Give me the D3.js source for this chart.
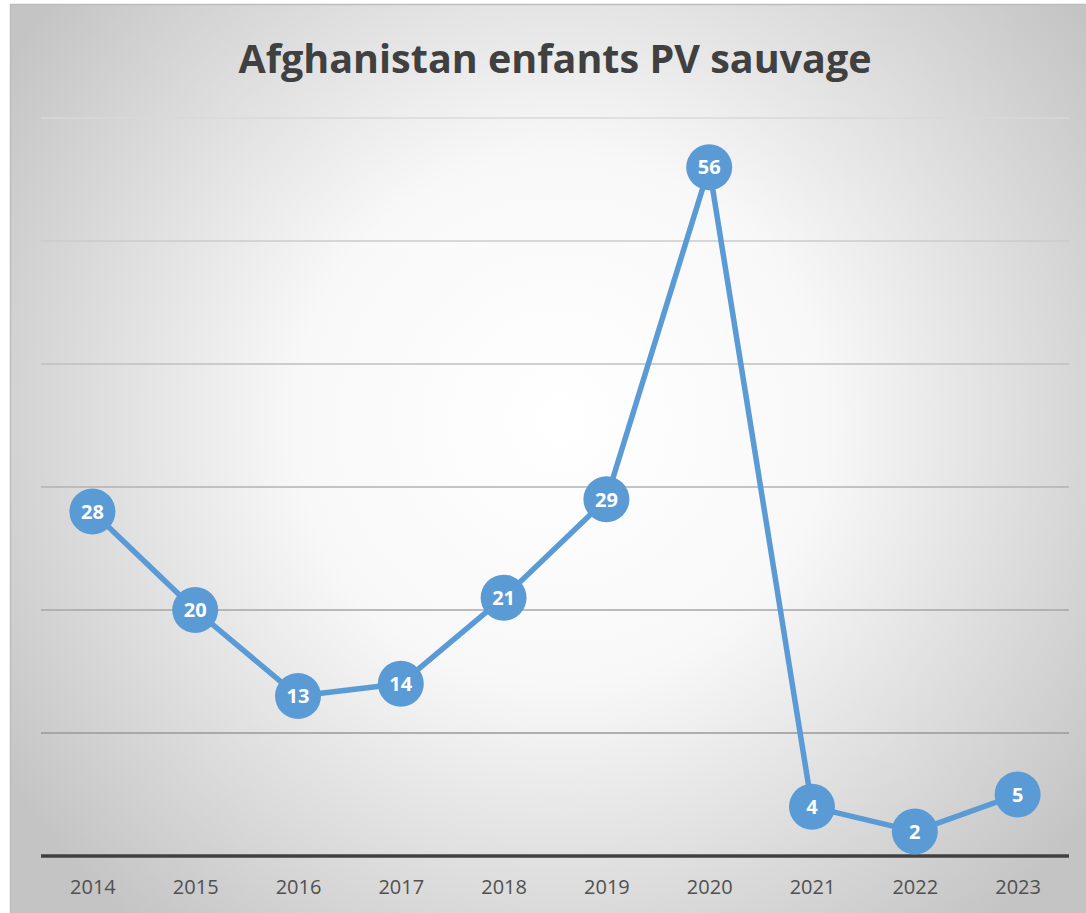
<!DOCTYPE html>
<html>
<head>
<meta charset="utf-8">
<script src="https://cdn.jsdelivr.net/npm/d3@7"></script>
<style>
  body { margin: 0; background: #fff; }
  svg { display: block; }
</style>
</head>
<body>
<main></main>
<script>
// data
const years = ['2014', '2015', '2016', '2017', '2018', '2019', '2020', '2021', '2022', '2023'];
const cases = [28, 20, 13, 14, 21, 29, 56, 4, 2, 5];
const yTicks = [0, 10, 20, 30, 40, 50, 60];

const w = 1086;
const h = 913;
const plot = { left: 41, right: 1069, top: 118, bottom: 856 };

const svg = d3.select('main').append('svg').attr('width', w).attr('height', h);

const defs = svg.append('defs');
const bg = defs
  .append('radialGradient')
  .attr('id', 'bg')
  .attr('gradientUnits', 'userSpaceOnUse')
  .attr('cx', 560)
  .attr('cy', 420)
  .attr('r', 660);
bg.append('stop').attr('offset', '0%').attr('stop-color', '#ffffff');
bg.append('stop').attr('offset', '40%').attr('stop-color', '#f8f8f8');
bg.append('stop').attr('offset', '100%').attr('stop-color', '#c4c4c4');

// chart frame
svg
  .append('rect')
  .attr('x', 10.5)
  .attr('y', 4.5)
  .attr('width', w)
  .attr('height', h)
  .attr('fill', 'url(#bg)')
  .attr('stroke', '#bdbdbd')
  .attr('stroke-width', 1.5);

const x = d3.scalePoint().domain(years).range([plot.left, plot.right]).padding(0.5);
const y = d3.scaleLinear().domain([0, 60]).range([plot.bottom, plot.top]);

// gridlines get darker toward the bottom
const gridColor = d3.scaleLinear().domain([60, 10]).range(['#d8d8d8', '#999999']);
svg
  .append('g')
  .selectAll('line')
  .data(yTicks.filter((d) => d > 0))
  .enter()
  .append('line')
  .attr('x1', plot.left)
  .attr('x2', plot.right)
  .attr('y1', (d) => y(d))
  .attr('y2', (d) => y(d))
  .attr('stroke', (d) => gridColor(d))
  .attr('stroke-width', 1.5);

// baseline
svg
  .append('line')
  .attr('x1', plot.left)
  .attr('x2', plot.right)
  .attr('y1', y(0))
  .attr('y2', y(0))
  .attr('stroke', '#404040')
  .attr('stroke-width', 3.5);

// x axis labels
const xAxis = svg
  .append('g')
  .attr('transform', `translate(0,${y(0)})`)
  .call(d3.axisBottom(x).tickSize(0).tickPadding(24));
xAxis.select('.domain').remove();
xAxis
  .selectAll('text')
  .attr('fill', '#505050')
  .style('font-family', '"Open Sans", sans-serif')
  .style('font-size', '20px');

// title
svg
  .append('text')
  .attr('x', 555)
  .attr('y', 73)
  .attr('text-anchor', 'middle')
  .attr('fill', '#404040')
  .style('font-family', '"Open Sans", sans-serif')
  .style('font-weight', 'bold')
  .style('font-size', '39.5px')
  .text('Afghanistan enfants PV sauvage');

const pts = years.map((d, i) => ({ year: d, v: cases[i] }));

const line = d3
  .line()
  .x((d) => x(d.year))
  .y((d) => y(d.v));

svg
  .append('path')
  .datum(pts)
  .attr('d', line)
  .attr('fill', 'none')
  .attr('stroke', '#5B9BD5')
  .attr('stroke-width', 5.5)
  .attr('stroke-linejoin', 'round');

const marks = svg
  .append('g')
  .selectAll('g')
  .data(pts)
  .enter()
  .append('g')
  .attr('transform', (d) => `translate(${x(d.year)},${y(d.v)})`);

marks.append('circle').attr('r', 23).attr('fill', '#5B9BD5');

marks
  .append('text')
  .attr('text-anchor', 'middle')
  .attr('dy', '0.36em')
  .attr('fill', '#ffffff')
  .style('font-family', '"Open Sans", sans-serif')
  .style('font-weight', 'bold')
  .style('font-size', '20px')
  .text((d) => d.v);
</script>
</body>
</html>
